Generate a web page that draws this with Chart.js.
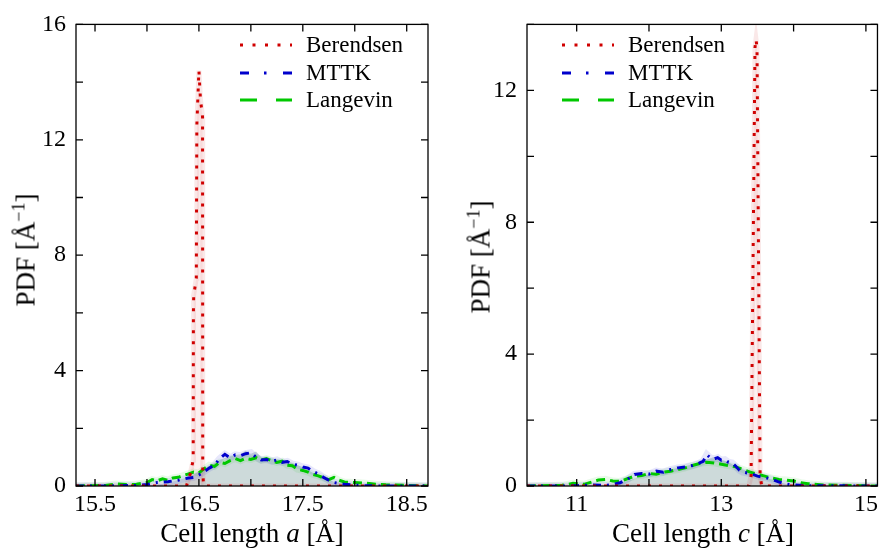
<!DOCTYPE html>
<html><head><meta charset="utf-8">
<script src="https://cdn.jsdelivr.net/npm/chart.js@4.4.1/dist/chart.umd.min.js"></script>
<style>
html,body{margin:0;padding:0;background:#fff;}
#wrap{position:relative;width:882px;height:550px;overflow:hidden;font-family:'Liberation Serif','Times New Roman',serif;color:#000;}
.pane{position:absolute;top:0;width:441px;height:550px;}
.xt{position:absolute;font-size:27px;line-height:27px;white-space:nowrap;transform:translateX(-50%);top:520px;}
.yt{position:absolute;font-size:27px;line-height:27px;white-space:nowrap;transform:translate(-50%,-50%) rotate(-90deg);}
.yt sup{font-size:18px;line-height:0;}
.row{position:absolute;height:28px;display:flex;align-items:center;font-size:23px;white-space:nowrap;font-family:'Liberation Serif','Times New Roman',serif;}
.row svg{margin-right:14px;}
</style></head>
<body>
<div id="wrap">
  <div class="pane" style="left:0"><canvas id="cA" width="441" height="550"></canvas></div>
  <div class="pane" style="left:441px"><canvas id="cC" width="441" height="550"></canvas></div>

  <div class="yt" style="left:26px;top:250px;">PDF [Å<sup>−1</sup>]</div>
  <div class="yt" style="left:481px;top:257px;">PDF [Å<sup>−1</sup>]</div>
  <div class="xt" style="left:252px;">Cell length <i>a</i> [Å]</div>
  <div class="xt" style="left:703px;">Cell length <i>c</i> [Å]</div>

  <div id="legA"></div>
  <div id="legC"></div>
</div>
<script>
// ---------- categories / series names ----------
const seriesNames = ['Berendsen', 'MTTK', 'Langevin'];
const seriesColors = ['#d00000', '#0000cc', '#00c800'];

// ---------- Left panel: cell length a ----------
const berAX = [15.317, 16.38, 16.415, 16.445, 16.447, 16.45, 16.475, 16.48, 16.50, 16.515, 16.535, 16.537, 16.545, 18.705];
const berAY = [0, 0, 0.4, 0.9, 6.0, 6.6, 7.2, 12.5, 14.4, 13.4, 12.8, 0.5, 0, 0];

const mttkAX = [15.317,15.6,15.9,16.0,16.1,16.2,16.3,16.4,16.45,16.5,16.55,16.6,16.65,16.7,16.75,16.8,16.85,16.9,16.95,17.0,17.05,17.1,17.15,17.2,17.25,17.3,17.35,17.4,17.45,17.5,17.55,17.6,17.65,17.7,17.75,17.8,17.9,18.0,18.1,18.3,18.705];
const mttkAY = [0,0,0.02,0.05,0.12,0.15,0.2,0.28,0.3,0.38,0.5,0.62,0.72,0.95,1.1,0.98,1.08,1.05,1.12,1.15,1.0,0.9,0.92,0.86,0.9,0.82,0.85,0.76,0.72,0.66,0.62,0.5,0.42,0.3,0.2,0.12,0.06,0.03,0.01,0,0];

const langAX = [15.317,15.6,15.7,15.8,15.9,16.0,16.05,16.1,16.15,16.2,16.25,16.3,16.35,16.4,16.45,16.5,16.55,16.6,16.65,16.7,16.75,16.8,16.85,16.9,16.95,17.0,17.05,17.1,17.15,17.2,17.25,17.3,17.35,17.4,17.45,17.5,17.55,17.6,17.65,17.7,17.75,17.8,17.85,17.9,18.0,18.1,18.2,18.3,18.5,18.705];
const langAY = [0,0.02,0.07,0.05,0.06,0.12,0.22,0.18,0.25,0.2,0.28,0.3,0.36,0.42,0.48,0.45,0.6,0.72,0.68,0.82,0.78,0.88,0.95,0.88,0.96,0.92,0.98,0.9,0.95,0.88,0.82,0.86,0.72,0.7,0.58,0.54,0.48,0.4,0.35,0.28,0.22,0.3,0.2,0.14,0.12,0.1,0.06,0.04,0.02,0];

const shadeAX = [16.0,16.2,16.4,16.5,16.6,16.7,16.8,16.9,16.95,17.0,17.05,17.1,17.2,17.3,17.4,17.5,17.6,17.7,17.8,17.9,18.0,18.1];
const shadeAY = [0,0.1,0.3,0.5,0.7,0.9,1.05,1.1,1.22,1.12,1.2,1.0,0.95,0.9,0.8,0.65,0.45,0.28,0.15,0.1,0.05,0];

const xTicksA = [15.5,16,16.5,17,17.5,18,18.5];
const xLabelsA = [15.5,16.5,17.5,18.5];
const yTicksA = [0,2,4,6,8,10,12,14,16];
const yLabelsA = [0,4,8,12,16];

// ---------- Right panel: cell length c ----------
const berCX = [10.313, 13.38, 13.412, 13.44, 13.466, 13.48, 13.494, 13.515, 13.537, 13.56, 15.16];
const berCY = [0, 0, 0.3, 7, 13.3, 13.55, 13.3, 7, 0.3, 0, 0];

const mttkCX = [10.313,10.8,11.0,11.2,11.4,11.5,11.6,11.7,11.8,11.9,12.0,12.1,12.2,12.3,12.4,12.5,12.6,12.7,12.75,12.8,12.85,12.9,12.95,13.0,13.05,13.1,13.15,13.2,13.25,13.3,13.4,13.5,13.6,13.7,13.8,13.9,14.0,14.2,15.16];
const mttkCY = [0,0,0.01,0.03,0.02,0.05,0.1,0.2,0.35,0.38,0.36,0.45,0.42,0.5,0.55,0.58,0.62,0.7,0.75,0.95,0.85,0.82,0.86,0.78,0.8,0.72,0.7,0.6,0.48,0.42,0.38,0.3,0.26,0.2,0.12,0.06,0.03,0.01,0];

const langCX = [10.313,10.8,10.95,11.1,11.3,11.4,11.5,11.6,11.7,11.8,11.9,12.0,12.1,12.2,12.3,12.4,12.5,12.6,12.7,12.8,12.9,13.0,13.1,13.2,13.3,13.4,13.5,13.6,13.7,13.8,13.9,14.0,14.1,14.2,14.4,15.16];
const langCY = [0,0.02,0.08,0.05,0.18,0.2,0.15,0.14,0.22,0.3,0.32,0.38,0.36,0.42,0.45,0.5,0.55,0.62,0.68,0.72,0.7,0.66,0.62,0.58,0.5,0.42,0.36,0.3,0.24,0.2,0.18,0.15,0.1,0.07,0.03,0];

const shadeCX = [11.3,11.5,11.7,11.9,12.1,12.3,12.5,12.7,12.8,12.9,13.0,13.1,13.2,13.3,13.4,13.5,13.6,13.7,13.8,13.9,14.0,14.2];
const shadeCY = [0,0.05,0.15,0.3,0.4,0.5,0.6,0.72,0.8,0.88,0.8,0.72,0.6,0.5,0.42,0.32,0.25,0.2,0.12,0.06,0.03,0];

const xTicksC = [11,12,13,14,15];
const xLabelsC = [11,13,15];
const yTicksC = [0,2,4,6,8,10,12,14];
const yLabelsC = [0,4,8,12];

// ---------- helpers ----------
const pts = (xs, ys) => xs.map((x, i) => ({x, y: ys[i]}));

const framePlugin = {
  id: 'frame',
  afterDatasetsDraw(chart, args, opts) {
    const {ctx, chartArea: a, scales: {x, y}} = chart;
    ctx.save();
    ctx.strokeStyle = '#000';
    ctx.lineWidth = 1.3;
    ctx.beginPath();
    const L = 7;
    opts.xTicks.forEach(v => {
      const p = x.getPixelForValue(v);
      ctx.moveTo(p, a.bottom); ctx.lineTo(p, a.bottom - L);
      ctx.moveTo(p, a.top); ctx.lineTo(p, a.top + L);
    });
    opts.yTicks.forEach(v => {
      const p = y.getPixelForValue(v);
      ctx.moveTo(a.left, p); ctx.lineTo(a.left + L, p);
      ctx.moveTo(a.right, p); ctx.lineTo(a.right - L, p);
    });
    ctx.stroke();
    ctx.strokeRect(a.left, a.top, a.right - a.left, a.bottom - a.top);
    ctx.restore();
  }
};

function build(id, d) {
  const tickFont = {family: "'Liberation Serif', 'Times New Roman', serif", size: 24};
  new Chart(document.getElementById(id), {
    type: 'line',
    data: {
      datasets: [
        {data: pts(d.bX, d.bY), borderColor: seriesColors[0], borderWidth: 3, borderDash: [3, 8], borderCapStyle: 'butt', fill: false},
        {data: pts(d.mX, d.mY), borderColor: seriesColors[1], borderWidth: 3, borderDash: [8, 6, 2, 6], borderCapStyle: 'butt', fill: false},
        {data: pts(d.lX, d.lY), borderColor: seriesColors[2], borderWidth: 3, borderDash: [9, 5], borderCapStyle: 'butt', fill: false},
        {data: pts(d.bX, d.bY), borderColor: 'rgba(204,0,0,0.09)', borderWidth: 5, fill: 'origin', backgroundColor: 'rgba(204,0,0,0.06)'},
        {data: pts(d.mX, d.mY), borderColor: 'rgba(60,60,220,0.12)', borderWidth: 7, fill: false},
        {data: pts(d.lX, d.lY), borderColor: 'rgba(0,200,0,0.09)', borderWidth: 7, fill: false},
        {data: pts(d.sX, d.sY), borderWidth: 0, borderColor: 'rgba(0,0,0,0)', fill: 'origin', backgroundColor: 'rgba(100,140,140,0.32)'}
      ]
    },
    options: {
      responsive: false,
      animation: false,
      events: [],
      elements: {point: {radius: 0}, line: {tension: 0}},
      layout: {padding: {top: 15, right: d.padR, left: 0, bottom: 0}},
      plugins: {legend: {display: false}, tooltip: {enabled: false}, frame: {xTicks: d.xT, yTicks: d.yT}},
      scales: {
        x: {
          type: 'linear', min: d.xMin, max: d.xMax,
          grid: {display: false, drawTicks: false}, border: {display: false},
          afterBuildTicks: s => { s.ticks = d.xT.map(v => ({value: v})); },
          afterFit: s => { s.height = 64; },
          ticks: {font: tickFont, color: '#000', padding: 4, autoSkip: false, maxRotation: 0,
                  callback: v => d.xL.includes(v) ? String(v) : ''}
        },
        y: {
          type: 'linear', min: 0, max: d.yMax,
          grid: {display: false, drawTicks: false}, border: {display: false},
          afterBuildTicks: s => { s.ticks = d.yT.map(v => ({value: v})); },
          afterFit: s => { s.width = d.yW; },
          ticks: {font: tickFont, color: '#000', padding: 10, autoSkip: false,
                  callback: v => d.yL.includes(v) ? String(v) : ''}
        }
      }
    },
    plugins: [framePlugin]
  });
}

build('cA', {bX: berAX, bY: berAY, mX: mttkAX, mY: mttkAY, lX: langAX, lY: langAY, sX: shadeAX, sY: shadeAY,
  xMin: 15.317, xMax: 18.705, yMax: 16, xT: xTicksA, xL: xLabelsA, yT: yTicksA, yL: yLabelsA, yW: 76, padR: 13});
build('cC', {bX: berCX, bY: berCY, mX: mttkCX, mY: mttkCY, lX: langCX, lY: langCY, sX: shadeCX, sY: shadeCY,
  xMin: 10.313, xMax: 15.16, yMax: 14, xT: xTicksC, xL: xLabelsC, yT: yTicksC, yL: yLabelsC, yW: 86, padR: 3});

// ---------- legends (HTML) ----------
const legendDash = ['3 9.5', '9 15 2.5 16.5', '17 19'];
function legend(elId, x0) {
  const el = document.getElementById(elId);
  const ys = [45, 73, 100];
  seriesNames.forEach((name, i) => {
    const row = document.createElement('div');
    row.className = 'row';
    row.style.left = x0 + 'px';
    row.style.top = (ys[i] - 14) + 'px';
    row.innerHTML = '<svg width="52" height="6"><line x1="0" y1="3" x2="52" y2="3" stroke="' + seriesColors[i] +
      '" stroke-width="3.2" stroke-dasharray="' + legendDash[i] + '"/></svg><span>' + name + '</span>';
    el.appendChild(row);
  });
}
legend('legA', 240);
legend('legC', 562);
</script>
</body></html>
